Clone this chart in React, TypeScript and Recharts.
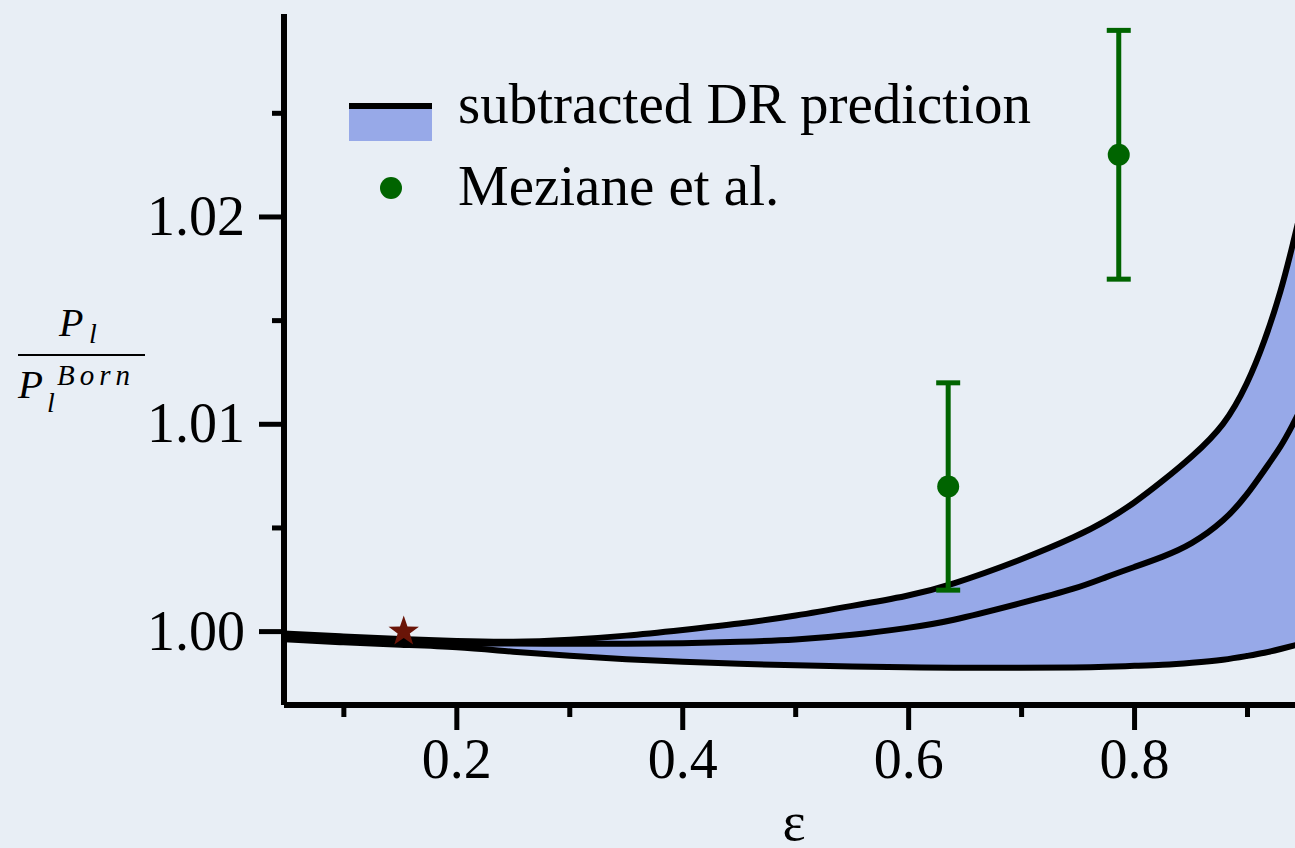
import { ComposedChart, Area, Line, Scatter, ErrorBar, XAxis, YAxis, Legend } from 'recharts';

// epsilon grid and the three DR curves
const eps = [0.047, 0.1, 0.15, 0.2, 0.25, 0.3, 0.35, 0.4, 0.45, 0.5, 0.55, 0.6, 0.635, 0.7, 0.75, 0.775, 0.8, 0.825, 0.85, 0.88, 0.9, 0.915, 0.93, 0.94, 0.95];
const upper = [0.99991, 0.99976, 0.99964, 0.99954, 0.99948, 0.9996, 0.99979, 1.00008, 1.00037, 1.00076, 1.00124, 1.00172, 1.0022, 1.00346, 1.00462, 1.00534, 1.00621, 1.00727, 1.00838, 1.00995, 1.01195, 1.01397, 1.01648, 1.01865, 1.02092];
const middle = [0.99977, 0.99962, 0.9995, 0.99941, 0.99943, 0.99941, 0.99941, 0.99943, 0.9995, 0.9996, 0.99982, 1.00018, 1.00047, 1.00138, 1.0021, 1.00264, 1.00312, 1.0036, 1.00418, 1.00535, 1.00662, 1.0078, 1.00895, 1.00997, 1.01103];
const lower = [0.99963, 0.99948, 0.99936, 0.99927, 0.99902, 0.99883, 0.99866, 0.99854, 0.99844, 0.99837, 0.99832, 0.99827, 0.99825, 0.99825, 0.99827, 0.9983, 0.99835, 0.99839, 0.99849, 0.99864, 0.99883, 0.99897, 0.99917, 0.99931, 0.99946];

// Meziane et al. points
const mezEps = [0.635, 0.786];
const mezVal = [1.007, 1.023];
const mezErr = [0.005, 0.006];

// star marker
const starEps = [0.153];
const starVal = [1.0];

const xTicks = [0.1, 0.2, 0.3, 0.4, 0.5, 0.6, 0.7, 0.8, 0.9];
const yTicks = [1.0, 1.005, 1.01, 1.015, 1.02, 1.025];

const SERIF = "'Liberation Serif', 'Times New Roman', serif";
const GREEN = '#006400';
const BAND = '#97a9e8';
const STAR = '#6a1508';
const BG = '#e8eef5';

const curveData = eps.map((e, i) => ({
  eps: e,
  upper: upper[i],
  middle: middle[i],
  lower: lower[i],
  band: [lower[i], upper[i]],
}));
const mezData = mezEps.map((e, i) => ({ eps: e, val: mezVal[i], err: mezErr[i] }));
const starData = starEps.map((e, i) => ({ eps: e, val: starVal[i] }));

const XTick = (props: any) => {
  const { x, y, payload } = props;
  const v = payload.value;
  const major = Math.round(v * 10) % 2 === 0;
  return (
    <g>
      <line x1={x} x2={x} y1={y} y2={y + (major ? 25 : 12)} stroke="#000" strokeWidth={5} />
      {major && (
        <text x={x} y={y + 73} textAnchor="middle" fontSize={56} fontFamily={SERIF} fill="#000">
          {v.toFixed(1)}
        </text>
      )}
    </g>
  );
};

const YTick = (props: any) => {
  const { x, y, payload } = props;
  const v = payload.value;
  const major = Math.round(v * 1000) % 10 === 0;
  return (
    <g>
      <line x1={x - (major ? 25 : 12)} x2={x} y1={y} y2={y} stroke="#000" strokeWidth={5} />
      {major && (
        <text x={x - 39} y={y + 18} textAnchor="end" fontSize={56} fontFamily={SERIF} fill="#000">
          {v.toFixed(2)}
        </text>
      )}
    </g>
  );
};

const YFrac = () => (
  <g fontFamily={SERIF} fontStyle="italic" fill="#000">
    <text x={59} y={336} fontSize={40}>P</text>
    <text x={89} y={343} fontSize={28}>l</text>
    <line x1={18} x2={145} y1={355} y2={355} stroke="#000" strokeWidth={2} />
    <text x={18} y={398} fontSize={41}>P</text>
    <text x={47} y={412} fontSize={28}>l</text>
    <text x={57} y={385} fontSize={29} letterSpacing={5}>Born</text>
  </g>
);

const EpsLabel = (props: any) => {
  const { x, y, width, height } = props.viewBox;
  return (
    <text x={x + width / 2} y={y + height - 8} textAnchor="middle" fontSize={55} fontFamily={SERIF} fill="#000">
      ε
    </text>
  );
};

const Dot = (p: any) => <circle cx={p.cx} cy={p.cy} r={11} fill={GREEN} />;

const StarShape = (p: any) => {
  const R = 16;
  const r = 6.4;
  const pts = [];
  for (let k = 0; k < 10; k++) {
    const rad = k % 2 === 0 ? R : r;
    const a = -Math.PI / 2 + (k * Math.PI) / 5;
    pts.push(`${p.cx + rad * Math.cos(a)},${p.cy + rad * Math.sin(a)}`);
  }
  return <polygon points={pts.join(' ')} fill={STAR} />;
};

const LegendBox = () => (
  <svg width={760} height={150}>
    <rect x={9} y={39} width={83} height={32} fill={BAND} />
    <rect x={9} y={33} width={83} height={6} fill="#000" />
    <text x={118} y={53} fontSize={57} fontFamily={SERIF} fill="#000">subtracted DR prediction</text>
    <circle cx={51} cy={118} r={11} fill={GREEN} />
    <text x={118} y={135} fontSize={57} fontFamily={SERIF} fill="#000">Meziane et al.</text>
  </svg>
);

export default function App() {
  return (
    <div style={{ width: 1295, height: 848, overflow: 'hidden', background: BG, position: 'relative' }}>
      <style>{'body{margin:0;overflow:hidden;}'}</style>
      <ComposedChart width={1304} height={848} data={curveData} margin={{ top: 14, right: 0, bottom: 0, left: 0 }}>
        <XAxis
          dataKey="eps"
          type="number"
          domain={[0.047, 0.95]}
          allowDataOverflow
          ticks={xTicks}
          interval={0}
          height={143}
          tickSize={0}
          tickMargin={0}
          tickLine={false}
          tick={<XTick />}
          axisLine={{ stroke: '#000', strokeWidth: 6 }}
          label={<EpsLabel />}
        />
        <XAxis
          xAxisId="top"
          orientation="top"
          dataKey="eps"
          type="number"
          domain={[0.047, 0.95]}
          height={0}
          tick={false}
          tickLine={false}
          axisLine={{ stroke: '#000', strokeWidth: 6 }}
        />
        <YAxis
          type="number"
          domain={[0.99646, 1.02979]}
          allowDataOverflow
          ticks={yTicks}
          interval={0}
          width={284}
          tickSize={0}
          tickMargin={0}
          tickLine={false}
          tick={<YTick />}
          axisLine={{ stroke: '#000', strokeWidth: 6 }}
          label={<YFrac />}
        />
        <Legend
          layout="vertical"
          align="center"
          verticalAlign="middle"
          content={<LegendBox />}
          wrapperStyle={{ position: 'absolute', left: 340, top: 70, width: 760, height: 150 }}
        />
        <Area dataKey="band" type="basis" fill={BAND} fillOpacity={1} stroke="none" isAnimationActive={false} />
        <Line dataKey="lower" type="basis" stroke="#000" strokeWidth={6} dot={false} isAnimationActive={false} />
        <Line dataKey="middle" type="basis" stroke="#000" strokeWidth={6} dot={false} isAnimationActive={false} />
        <Line dataKey="upper" type="basis" stroke="#000" strokeWidth={6} dot={false} isAnimationActive={false} />
        <Scatter data={mezData} dataKey="val" shape={<Dot />} isAnimationActive={false}>
          <ErrorBar dataKey="err" direction="y" width={12} stroke={GREEN} strokeWidth={5} />
        </Scatter>
        <Scatter data={starData} dataKey="val" shape={<StarShape />} isAnimationActive={false} />
      </ComposedChart>
    </div>
  );
}
